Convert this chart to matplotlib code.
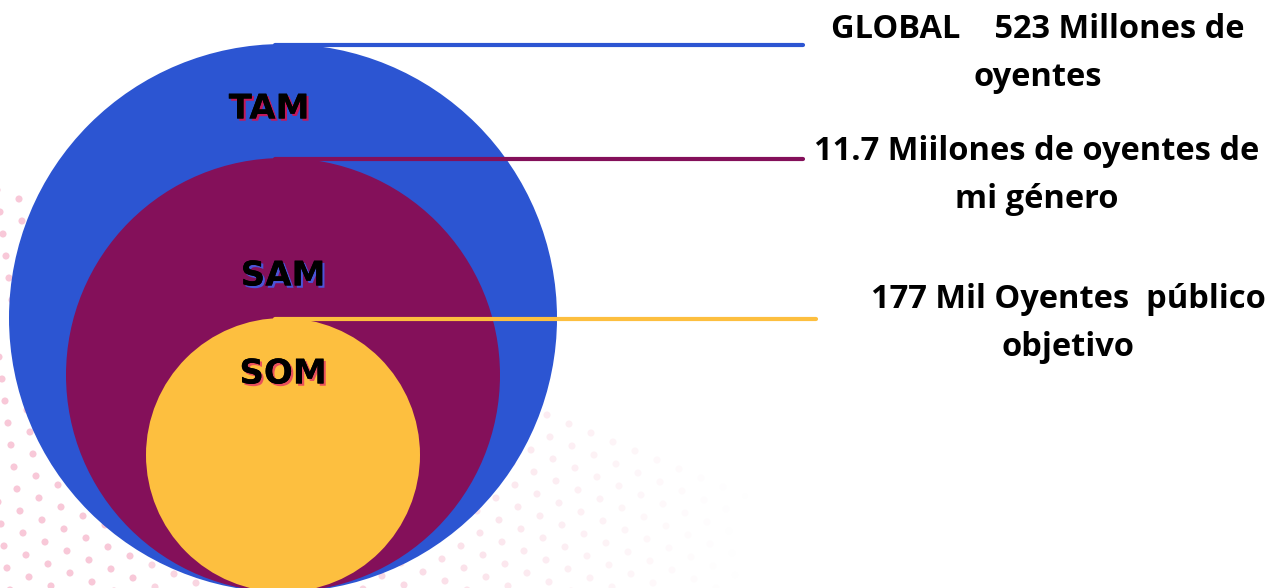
import numpy as np
import matplotlib.pyplot as plt
import matplotlib.patheffects as pe
from matplotlib.patches import Circle

# -------------------------------
# data
# -------------------------------
segments = ["TAM", "SAM", "SOM"]
radii = [274, 217, 137]          # px in the drawing
descriptions = [
    "GLOBAL    523 Millones de\noyentes",
    "11.7 Miilones de oyentes de\nmi género",
    "177 Mil Oyentes  público\nobjetivo",
]

# styles / layout
colors = ["#2C55D2", "#84105A", "#FDBF3F"]
shadow_colors = ["#C2185B", "#4A55D8", "#E8505B"]
cx = 283
bottom = 592
label_x = [269, 283, 283]
label_y = [109, 276, 374]
line_end = [803, 803, 816]
text_x = [1038, 1037, 1068]
text_y = [53, 175, 324]

fig = plt.figure(figsize=(12.78, 5.88), dpi=100)
ax = fig.add_axes([0, 0, 1, 1])
ax.set_xlim(0, 1278)
ax.set_ylim(588, 0)
ax.axis("off")

# -------------------------------
# pink dot background
# -------------------------------
a = np.array([22.0, 9.0])
b = np.array([-19.0, 13.0])
i, j = np.meshgrid(np.arange(-40, 60), np.arange(-40, 60))
px = 13 + i * a[0] + j * b[0]
py = 155 + i * a[1] + j * b[1]
px, py = px.ravel(), py.ravel()
top = np.maximum(148, 400 + 0.4 * (px - 540))
keep = (px > -5) & (px < 780) & (py > top) & (py < 600)
px, py = px[keep], py[keep]
alpha = 0.75 * np.clip((750 - px) / 380, 0, 1) ** 1.3
alpha = np.where(px < 150, 1.0, alpha)
dot_rgba = np.zeros((len(px), 4))
dot_rgba[:, :3] = np.array([248, 200, 216]) / 255
dot_rgba[:, 3] = alpha
ax.scatter(px, py, s=26, c=dot_rgba, linewidths=0, zorder=1)

# -------------------------------
# nested circles, leader lines, texts
# -------------------------------
for k, (name, r) in enumerate(zip(segments, radii)):
    cy = bottom - r
    ax.add_patch(Circle((cx, cy), r, facecolor=colors[k], edgecolor="none", zorder=2 + k))
    ax.plot([cx - 8, line_end[k]], [cy - r + 1, cy - r + 1], color=colors[k],
            lw=3, solid_capstyle="round", zorder=6)
    ax.text(label_x[k], label_y[k], name, ha="center", va="center",
            fontsize=24.5, fontweight="bold", family=["DejaVu Sans"],
            color="black", zorder=8,
            path_effects=[pe.withSimplePatchShadow(offset=(1.6, -1.6),
                                                   shadow_rgbFace=shadow_colors[k],
                                                   alpha=1),
                          pe.Normal()])
    ax.text(text_x[k], text_y[k], descriptions[k], ha="center", va="center",
            fontsize=23.5, fontweight="bold", family=["Open Sans", "DejaVu Sans"],
            color="black", linespacing=1.6, zorder=8)

fig.savefig("out.png", dpi=100)
